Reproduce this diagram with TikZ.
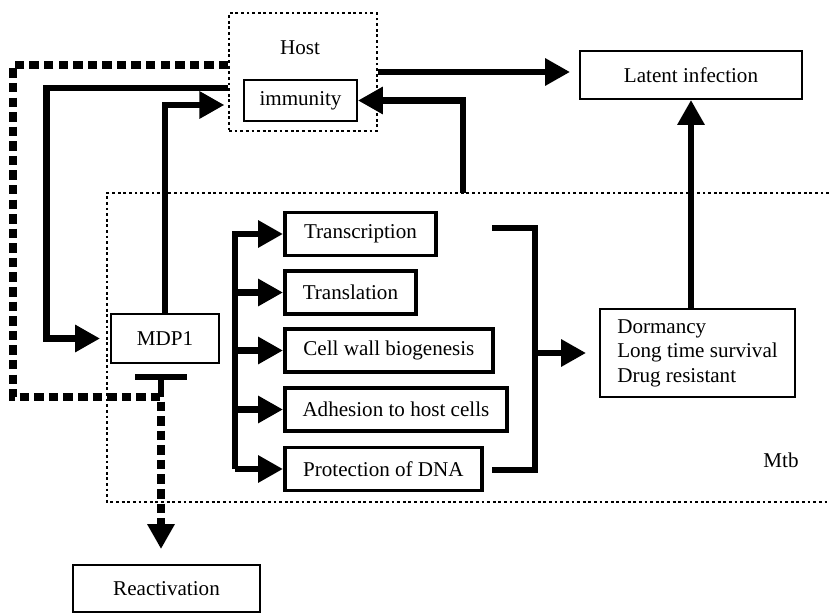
\documentclass[tikz,border=0pt]{standalone}
\usepackage{fontspec}
\setmainfont{Liberation Serif}
\usetikzlibrary{arrows.meta, positioning}

\tikzset{
  box/.style={rectangle, draw, line width=1.1pt, inner sep=2pt},
  stepbox/.style={rectangle, draw, line width=2.2pt, anchor=west, minimum height=0.86cm},
  dotbox/.style={rectangle, draw, line width=0.7pt, dash pattern=on 1.6pt off 1.6pt},
  heavy/.style={line width=3.8pt},
  heavyarrow/.style={heavy, -{Triangle[length=0.5cm, width=0.52cm]}},
  heavydash/.style={heavyarrow, line width=4.3pt, dash pattern=on 5.4pt off 2.9pt},
}

\begin{document}
\begin{tikzpicture}[x=0.02cm, y=-0.02cm, font=\fontsize{12}{14}\selectfont]
\useasboundingbox (0,0) rectangle (829,615);

% Mtb region, open to the right
\draw[dotbox] (829,193) -- (107,193) -- (107,502) -- (829,502);
\node (mtb) at (781,460) {Mtb};

\node[dotbox, minimum width=2.96cm, minimum height=2.36cm] (host) at (303,72) {};
\node (hostlabel) at (300,48) {Host};
\node[box, minimum width=2.26cm, minimum height=0.82cm] (imm) at (300.5,100.5) {immunity};
\node[box, minimum width=4.44cm, minimum height=0.96cm] (latent) at (691,75) {Latent infection};
\node[box, minimum width=2.16cm, minimum height=0.98cm] (mdp) at (165,338.5) {MDP1};
\node[box, minimum width=3.74cm, minimum height=0.94cm] (reac) at (166.5,588.5) {Reactivation};
\node[box, minimum width=3.9cm, minimum height=1.76cm, align=left] (dorm) at (697.5,353) {Dormancy\\Long time survival\\Drug resistant};

\node[stepbox, minimum width=3.02cm] (trans) at (283,234) {Transcription};
\node[stepbox, minimum width=2.62cm] (transl) at (283,292.5) {Translation};
\node[stepbox, minimum width=4.16cm] (cell) at (283,350.5) {Cell wall biogenesis};
\node[stepbox, minimum width=4.44cm] (adh) at (283,409.5) {Adhesion to host cells};
\node[stepbox, minimum width=3.94cm] (prot) at (283,469) {Protection of DNA};

\coordinate (mtbtop) at (463,193);
\coordinate (jtop) at (492,228);
\coordinate (jbot) at (492,470);
\coordinate (tbar) at (161,377);

% host side
\draw[heavyarrow, shorten >=0.18cm] (host.east) -- (host.east -| latent.west);
\draw[heavyarrow, shorten >=0.2cm] (host.west |- 0,88) -- ++(-182,0) |- (mdp.west);
\draw[heavyarrow, shorten >=0.08cm] (mdp.north) |- (host.west |- 0,105);
\draw[heavyarrow] (mtbtop) |- (imm.east);
\draw[heavyarrow] (latent.south |- dorm.north) -- (latent.south);

% fork to the targets
\draw[heavyarrow] (prot.west -| 235,0) |- (trans.west);
\foreach \b in {transl, cell, adh, prot}
  \draw[heavyarrow] (\b.west -| 235,0) -- (\b.west);

% join to the phenotype
\draw[heavy] (jtop) -| (535,470) -- (jbot);
\draw[heavyarrow, shorten >=0.26cm] (dorm.west -| 535,0) -- (dorm.west);

% inhibition and reactivation
\draw[heavy] (tbar) -- ++(0,20);
\draw[heavy] ([xshift=-0.52cm]tbar) -- ([xshift=0.52cm]tbar);
\draw[heavydash, shorten >=0.3cm] (host.west |- 0,65) -| (13,397) -| ([xshift=-0.11cm]reac.north);
\end{tikzpicture}
\end{document}
